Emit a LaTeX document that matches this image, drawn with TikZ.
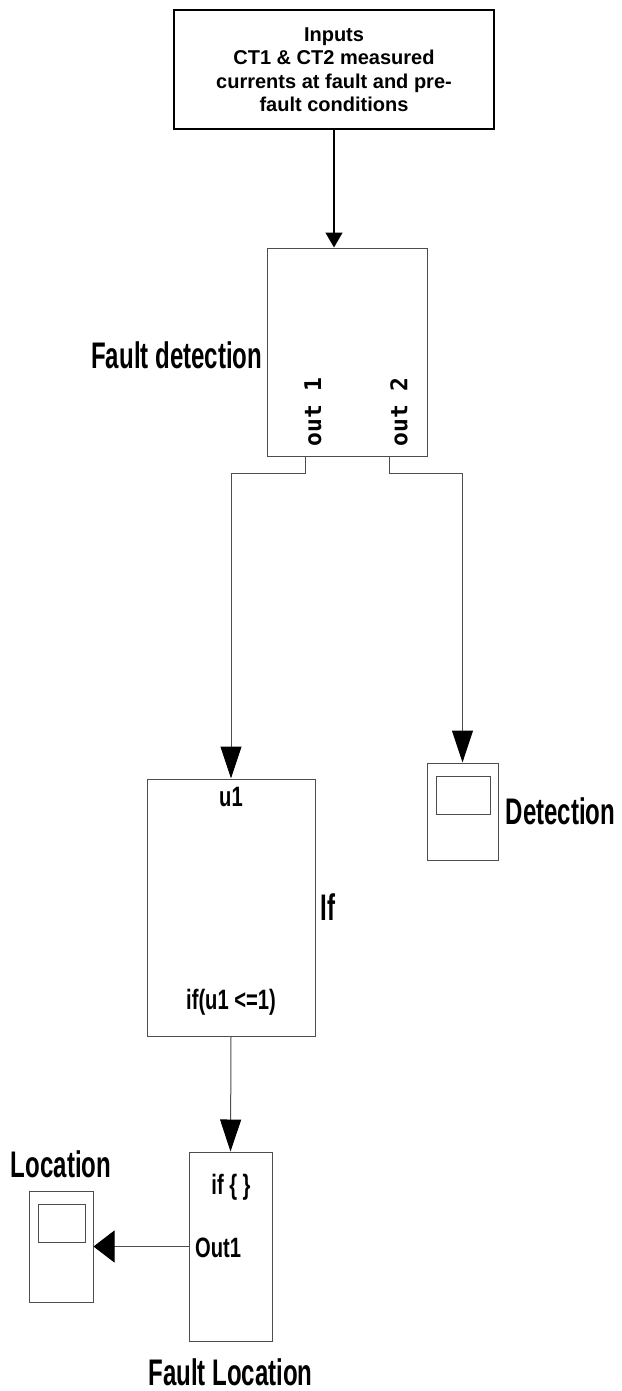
\documentclass[tikz,border=0pt]{standalone}
\usepackage{fontspec}
\setmainfont{Liberation Sans}
\setmonofont{DejaVu Sans Mono}
\newfontfamily\narrowfont[FakeStretch=0.65]{Liberation Sans}
\newfontfamily\portfont[FakeStretch=0.72]{Liberation Sans}
\usetikzlibrary{arrows.meta, positioning}
\definecolor{cline}{HTML}{4d4d4d}

\begin{document}
\begin{tikzpicture}[
  x=1pt, y=-1pt,
  >={Triangle[length=32pt, width=21pt, color=black]},
  block/.style={draw=cline, line width=1pt, rectangle, inner sep=0pt},
  inbox/.style={draw, line width=1.6pt, align=center, inner sep=0pt,
                minimum width=320pt, minimum height=119pt,
                font=\bfseries\fontsize{20}{23.5}\selectfont},
  scopeblk/.style={block, path picture={\draw[cline, line width=1pt]
      ([xshift=9pt, yshift=-13pt]path picture bounding box.north west) rectangle
      ([xshift=-8pt, yshift=-51pt]path picture bounding box.north east);}},
  lbl/.style={font=\narrowfont\bfseries\fontsize{37}{40}\selectfont, inner sep=0pt},
  port/.style={font=\portfont\bfseries\fontsize{28}{30}\selectfont, inner sep=0pt},
  outlbl/.style={font=\ttfamily\bfseries\fontsize{23}{25}\selectfont, inner sep=0pt, rotate=90},
  conn/.style={->, draw=cline, line width=1pt},
  ]
\useasboundingbox (0,0) rectangle (621,1391);

% inputs and fault detection
\node[inbox] (input) at (334,69.5) {Inputs\\CT1 \& CT2 measured\\currents at fault and pre-\\fault conditions};
\node[block, minimum width=160pt, minimum height=208pt] (detect) at (347,352) {};
\node[lbl, left=4pt of detect, yshift=-3pt] (detlbl) {Fault detection};
\node[outlbl] (out1) at (313,412) {out 1};
\node[outlbl] (out2) at (399,412) {out 2};
\coordinate (out1p) at (305,473);
\coordinate (out2p) at (389,473);

% if block and detection scope
\node[block, minimum width=168pt, minimum height=257pt] (ifb) at (231,907.5) {};
\node[port] (u1) at (231,797) {u1};
\node[port] (cond) at (231,1002) {if(u1 <=1)};
\node[lbl, right=5pt of ifb] (iflbl) {If};
\node[scopeblk, minimum width=71pt, minimum height=97pt] (detscope) at (462.5,811.5) {};
\node[lbl, right=7pt of detscope] (detname) {Detection};

% fault location and location scope
\node[block, minimum width=83pt, minimum height=189pt] (locblk) at (230.5,1246.5) {};
\node[port] (ifact) at (231,1187) {if \{ \}};
\node[port, anchor=west] (out1loc) at (195,1248) {Out1};
\node[lbl, below=17pt of locblk] (locname) {Fault Location};
\node[scopeblk, minimum width=64pt, minimum height=111pt] (locscope) at (61,1246.5) {};
\node[lbl, above=12pt of locscope] (loclbl) {Location};

\draw[conn, line width=1.6pt, draw=black, -{Triangle[length=15pt, width=17pt]}]
  (input.south) -- (input.south |- detect.north);
\draw[conn] (detect.south -| out1p) -- (out1p) -| (ifb.north);
\draw[conn] (detect.south -| out2p) -- (out2p) -| (detscope.north);
\draw[conn] (ifb.south) -- (locblk.north);
\draw[conn, -{Triangle[length=21pt, width=32pt, color=black]}] (locblk.west) -- (locscope.east);
\end{tikzpicture}
\end{document}
